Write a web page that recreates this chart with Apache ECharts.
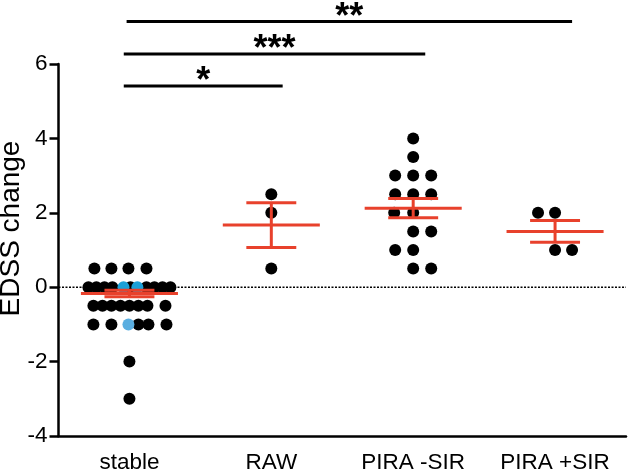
<!DOCTYPE html>
<html><head><meta charset="utf-8">
<script src="https://cdn.jsdelivr.net/npm/echarts@6/dist/echarts.min.js"></script>
<style>html,body{margin:0;padding:0;background:#fff}#c{width:628px;height:474px}</style>
</head><body><div id="c"></div>
<script>
// ---------- data ----------
const categories = ['stable', 'RAW', 'PIRA -SIR', 'PIRA +SIR'];
const yTicks = [-4, -2, 0, 2, 4, 6];
const yLabel = 'EDSS change';

// individual EDSS changes per group
const stableValues = [0.5, 0.5, 0.5, 0.5,
  0, 0, 0, 0, 0, 0, 0, 0, 0,
  -0.5, -0.5, -0.5, -0.5, -0.5, -0.5, -0.5, -0.5,
  -1, -1, -1, -1, -1,
  -2, -3];
const stableHighlightValues = [0, 0, -1];
const rawValues = [2.5, 2, 0.5];
const piraMinusValues = [4, 3.5, 3, 3, 3, 2.5, 2.5, 2.5, 2, 2, 1.5, 1.5, 1, 1, 0.5, 0.5];
const piraPlusValues = [2, 2, 1, 1];

// mean and SEM per group
const groupMean = [-0.17, 1.67, 2.125, 1.5];
const groupSem = [0.09, 0.6, 0.26, 0.29];

// significance comparisons
const sigLabels = ['*', '***', '**'];
const sigLevels = [5.41, 6.27, 7.14];

// ---------- layout (not data) ----------
// horizontal dot offsets, in fractions of one category width
const stableJitter = [-0.247, -0.127, -0.007, 0.12,
  -0.289, -0.233, -0.176, -0.12, 0.007, 0.12, 0.176, 0.233, 0.289,
  -0.254, -0.19, -0.127, -0.063, 0, 0.063, 0.127, 0.254,
  -0.254, -0.127, 0.063, 0.134, 0.261,
  0, 0];
const stableHighlightJitter = [-0.042, 0.056, -0.007];
const stableHighlightColors = ['#1aa0d8', '#1aa0d8', '#5aaee0'];
const rawJitter = [0, 0, 0];
const piraMinusJitter = [0, 0, -0.127, 0, 0.127, -0.127, 0, 0.127, -0.134, 0, 0, 0.127, -0.127, 0, 0, 0.127];
const piraPlusJitter = [-0.12, 0, 0, 0.12];
const sigFromX = [-0.04, -0.04, -0.02];
const sigToX = [1.08, 2.085, 3.12];

const RED = '#e8412c';
const FONT = 'Liberation Sans, Arial, sans-serif';

function pts(idx, vals, jit) {
  return vals.map((v, i) => [idx + jit[i], v]);
}
const blackDots = [].concat(
  pts(0, stableValues, stableJitter),
  pts(1, rawValues, rawJitter),
  pts(2, piraMinusValues, piraMinusJitter),
  pts(3, piraPlusValues, piraPlusJitter)
);
const blueDots = stableHighlightValues.map((v, i) => ({
  value: [0 + stableHighlightJitter[i], v],
  itemStyle: { color: stableHighlightColors[i], opacity: 1 }
}));
const errData = groupMean.map((m, i) => [i, m, m - groupSem[i], m + groupSem[i]]);
const sigData = sigLevels.map((y, i) => [sigFromX[i], sigToX[i], y]);

const chart = echarts.init(document.getElementById('c'), null, { renderer: 'canvas' });
chart.setOption({
  animation: false,
  textStyle: { fontFamily: FONT },
  grid: { left: 58.5, right: 2, top: 64, bottom: 35, containLabel: false },
  xAxis: [{
    type: 'category', data: categories,
    axisLine: { onZero: false, lineStyle: { color: '#000', width: 2.5 } },
    axisTick: { alignWithLabel: true, interval: 0, length: 11, lineStyle: { color: '#000', width: 2.5 } },
    axisLabel: { interval: 0, hideOverlap: false, color: '#000', fontSize: 22.5, fontFamily: FONT, margin: 15 },
    splitLine: { show: false }
  }, {
    type: 'value', min: -0.5, max: 3.5, show: false,
    axisLine: { onZero: false }
  }],
  yAxis: {
    type: 'value', min: yTicks[0], max: yTicks[yTicks.length - 1], interval: 2,
    axisLine: { show: true, onZero: false, lineStyle: { color: '#000', width: 2.5 } },
    axisTick: { show: true, length: 9, lineStyle: { color: '#000', width: 2.5 } },
    axisLabel: { color: '#000', fontSize: 22.5, fontFamily: FONT, margin: 11 },
    splitLine: { show: false }
  },
  graphic: [{
    type: 'text', x: 11.5, y: 228.5, rotation: Math.PI / 2,
    style: { text: yLabel, fontSize: 28, fontFamily: FONT, fill: '#000', textAlign: 'center', textVerticalAlign: 'middle' }
  }],
  series: [{
    type: 'line', xAxisIndex: 1, z: 1, silent: true, symbol: 'none',
    data: [[-0.5, 0], [3.5, 0]],
    lineStyle: { color: '#000', width: 1.6, type: [2, 1.5] }
  }, {
    type: 'scatter', xAxisIndex: 1, z: 2, symbolSize: 12,
    itemStyle: { color: '#000', opacity: 1 }, data: blackDots
  }, {
    type: 'scatter', xAxisIndex: 1, z: 3, symbolSize: 12,
    itemStyle: { opacity: 1 }, data: blueDots
  }, {
    type: 'custom', xAxisIndex: 1, z: 4, data: errData,
    renderItem: function (params, api) {
      const x = api.value(0);
      const pm = api.coord([x, api.value(1)]);
      const pl = api.coord([x, api.value(2)]);
      const ph = api.coord([x, api.value(3)]);
      const hw = api.size([0.342, 0])[0];
      const cw = api.size([0.176, 0])[0];
      const st = { stroke: RED, lineWidth: 3, fill: null };
      return { type: 'group', children: [
        { type: 'line', shape: { x1: pm[0] - hw, y1: pm[1], x2: pm[0] + hw, y2: pm[1] }, style: st },
        { type: 'line', shape: { x1: pl[0], y1: pl[1], x2: ph[0], y2: ph[1] }, style: st },
        { type: 'line', shape: { x1: pl[0] - cw, y1: pl[1], x2: pl[0] + cw, y2: pl[1] }, style: st },
        { type: 'line', shape: { x1: ph[0] - cw, y1: ph[1], x2: ph[0] + cw, y2: ph[1] }, style: st }
      ] };
    }
  }, {
    type: 'custom', xAxisIndex: 1, z: 5, clip: false, data: sigData,
    renderItem: function (params, api) {
      const a = api.coord([api.value(0), api.value(2)]);
      const b = api.coord([api.value(1), api.value(2)]);
      return { type: 'group', children: [
        { type: 'line', shape: { x1: a[0], y1: a[1], x2: b[0], y2: b[1] }, style: { stroke: '#000', lineWidth: 3 } },
        { type: 'text', x: (a[0] + b[0]) / 2, y: a[1] - 4, style: {
          text: sigLabels[params.dataIndex], fontSize: 36, fontWeight: 'bold', fontFamily: FONT,
          fill: '#000', textAlign: 'center', textVerticalAlign: 'middle' } }
      ] };
    }
  }]
});
</script>
</body></html>
